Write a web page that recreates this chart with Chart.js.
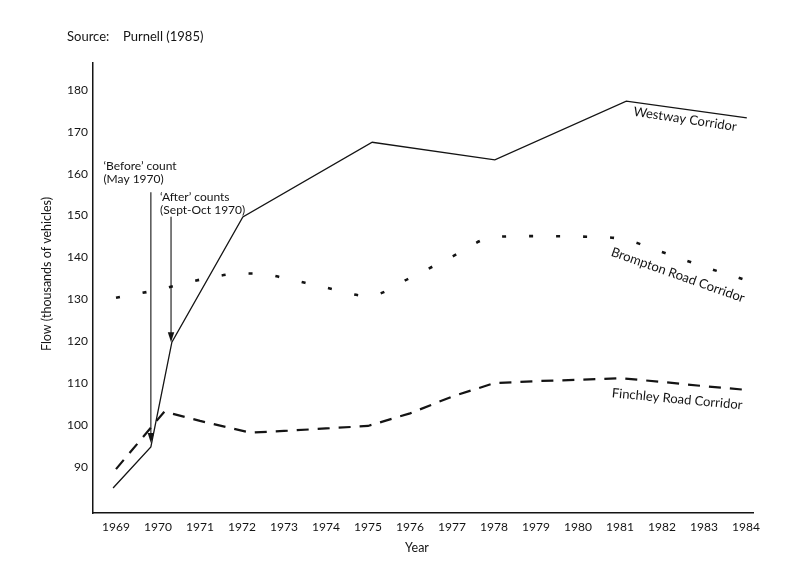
<!DOCTYPE html>
<html>
<head>
<meta charset="utf-8">
<title>Corridor flows 1969-1984</title>
<script src="https://cdn.jsdelivr.net/npm/chart.js@4.4.1/dist/chart.umd.min.js"></script>
<style>
  html, body { margin: 0; padding: 0; background: #fff; }
</style>
</head>
<body>
<canvas id="chart" width="796" height="579"></canvas>
<script>
// flows in thousands of vehicles, years as decimals (1970 counts sit inside the year)
const westwayYears = [1968.93, 1969.83, 1970.33, 1972.02, 1975.1, 1978.02, 1981.15, 1984.02];
const westwayFlow  = [85, 94.8, 119.8, 149.7, 167.5, 163.3, 177.3, 173.3];

const bromptonYears = [1969, 1970, 1971, 1972, 1972.5, 1973, 1974, 1975, 1976, 1977, 1978, 1979, 1980, 1981, 1982, 1983, 1984];
const bromptonFlow  = [130.4, 132.3, 134.7, 136.2, 136.1, 135.1, 132.8, 130.8, 135.1, 140.2, 144.9, 145.1, 145.0, 144.5, 141.3, 137.8, 134.6];

const finchleyYears = [1969, 1970.15, 1971, 1972.2, 1973, 1974, 1975, 1976, 1977, 1978, 1979, 1980, 1981, 1982, 1983, 1984];
const finchleyFlow  = [89.5, 103.2, 101, 98.2, 98.6, 99.2, 99.8, 102.8, 106.8, 110, 110.5, 110.8, 111.2, 110.3, 109.3, 108.4];

const yearTicks = [1969, 1970, 1971, 1972, 1973, 1974, 1975, 1976, 1977, 1978, 1979, 1980, 1981, 1982, 1983, 1984];
const flowTicks = [90, 100, 110, 120, 130, 140, 150, 160, 170, 180];

// notes on the plot, in data units
const countArrows = [
  { year: 1969.83, from: 155.6, to: 95.7 },
  { year: 1970.31, from: 149.7, to: 119.8 }
];
const countNotes = [
  { year: 1968.7, flow: 161.7, lines: ["\u2018Before\u2019 count", "(May 1970)"] },
  { year: 1970.05, flow: 154.3, lines: ["\u2018After\u2019 counts", "(Sept-Oct 1970)"] }
];
const seriesLabels = [
  { text: "Westway Corridor", year: 1982.55, flow: 173.0, angle: 8.5 },
  { text: "Brompton Road Corridor", year: 1982.38, flow: 135.8, angle: 19.6 },
  { text: "Finchley Road Corridor", year: 1982.36, flow: 106.2, angle: 5.3 }
];

const ink = "#141414";
Chart.defaults.font.family = "Lato, 'Open Sans', sans-serif";
Chart.defaults.color = ink;

function toPoints(aX, aY) {
  return aX.map((v, i) => ({ x: v, y: aY[i] }));
}

const annotate = {
  id: "annotate",
  afterDraw(chart) {
    const { ctx, scales: { x, y } } = chart;
    ctx.save();
    ctx.fillStyle = ink;
    ctx.strokeStyle = ink;

    // arrows
    countArrows.forEach(a => {
      const px = x.getPixelForValue(a.year);
      const top = y.getPixelForValue(a.from);
      const tip = y.getPixelForValue(a.to);
      ctx.lineWidth = 1.1;
      ctx.beginPath();
      ctx.moveTo(px, top);
      ctx.lineTo(px, tip - 5);
      ctx.stroke();
      ctx.beginPath();
      ctx.moveTo(px, tip);
      ctx.lineTo(px - 3.2, tip - 10);
      ctx.lineTo(px + 3.2, tip - 10);
      ctx.closePath();
      ctx.fill();
    });

    ctx.font = "12px Lato";
    ctx.textAlign = "left";
    ctx.textBaseline = "middle";
    countNotes.forEach(n => {
      const px = x.getPixelForValue(n.year);
      const py = y.getPixelForValue(n.flow);
      n.lines.forEach((s, i) => ctx.fillText(s, px, py + i * 13));
    });

    // series names, tilted along their lines
    ctx.font = "13px Lato";
    ctx.textAlign = "center";
    seriesLabels.forEach(l => {
      ctx.save();
      ctx.translate(x.getPixelForValue(l.year), y.getPixelForValue(l.flow));
      ctx.rotate(l.angle * Math.PI / 180);
      ctx.fillText(l.text, 0, 0);
      ctx.restore();
    });

    // source + axis titles
    ctx.font = "13px Lato";
    ctx.textAlign = "left";
    ctx.fillText("Source:", 67, 37);
    ctx.fillText("Purnell (1985)", 123, 37);

    ctx.font = "12.5px Lato";
    ctx.textAlign = "center";
    ctx.fillText("Year", 417, 548);
    ctx.save();
    ctx.translate(47, 274);
    ctx.rotate(-Math.PI / 2);
    ctx.fillText("Flow (thousands of vehicles)", 0, 0);
    ctx.restore();

    ctx.restore();
  }
};

new Chart(document.getElementById("chart"), {
  type: "line",
  data: {
    datasets: [
      {
        label: "Westway Corridor",
        data: toPoints(westwayYears, westwayFlow),
        borderColor: ink,
        borderWidth: 1.3,
        tension: 0
      },
      {
        label: "Brompton Road Corridor",
        data: toPoints(bromptonYears, bromptonFlow),
        borderColor: ink,
        borderWidth: 2.6,
        borderDash: [4, 23],
        cubicInterpolationMode: "monotone"
      },
      {
        label: "Finchley Road Corridor",
        data: toPoints(finchleyYears, finchleyFlow),
        borderColor: ink,
        borderWidth: 2.2,
        borderDash: [12, 9],
        tension: 0
      }
    ]
  },
  options: {
    responsive: false,
    animation: false,
    devicePixelRatio: 1,
    layout: { padding: { left: 0, top: 63, right: 43, bottom: 0 } },
    elements: { point: { radius: 0 } },
    plugins: {
      legend: { display: false },
      tooltip: { enabled: false }
    },
    scales: {
      x: {
        type: "linear",
        min: 1968.452,
        max: 1984.167,
        afterFit: s => { s.height = 66; },
        afterBuildTicks: s => { s.ticks = yearTicks.map(v => ({ value: v })); },
        grid: { display: false, drawTicks: false },
        border: { display: true, color: ink, width: 1.5 },
        ticks: {
          padding: 6.5,
          maxRotation: 0,
          autoSkip: false,
          font: { size: 12 },
          callback: v => String(v)
        }
      },
      y: {
        min: 79.02,
        max: 186.42,
        afterFit: s => { s.width = 93; },
        afterBuildTicks: s => { s.ticks = flowTicks.map(v => ({ value: v })); },
        grid: { display: false, drawTicks: false },
        border: { display: true, color: ink, width: 1.5 },
        ticks: { padding: 5, font: { size: 12 } }
      }
    }
  },
  plugins: [annotate]
});
</script>
</body>
</html>
